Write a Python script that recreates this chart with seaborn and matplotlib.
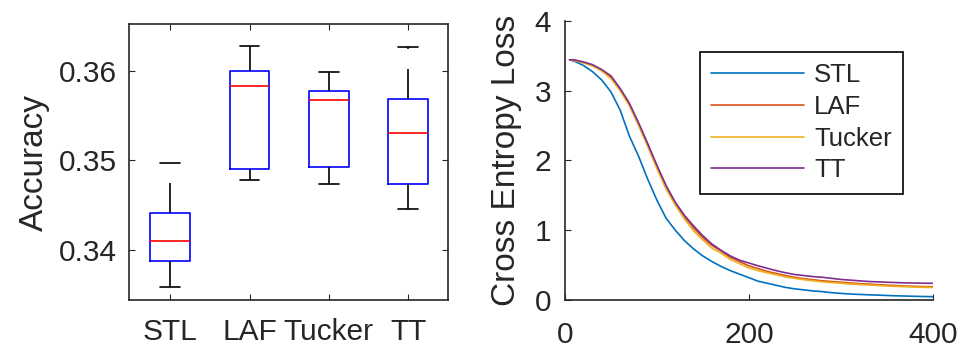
import pandas as pd
import matplotlib
matplotlib.use("Agg")
import matplotlib.pyplot as plt
import seaborn as sns

# Data

methods = ["STL", "LAF", "Tucker", "TT"]

# five numbers per method: lower whisker, q1, median, q3, upper whisker
acc_stl = [0.3358, 0.3388, 0.3410, 0.3441, 0.3497]
acc_laf = [0.3478, 0.3490, 0.3583, 0.3600, 0.3627]
acc_tucker = [0.3474, 0.3493, 0.3567, 0.3577, 0.3598]
acc_tt = [0.3446, 0.3473, 0.3530, 0.3568, 0.3626]

epochs = [5, 10, 20, 30, 40, 50, 60, 70, 80, 90, 100, 110, 120, 130, 140, 150,
          160, 170, 180, 190, 200, 210, 220, 230, 240, 250, 260, 270, 280, 290,
          300, 310, 320, 330, 340, 350, 360, 370, 380, 390, 400]

loss_stl = [3.44, 3.42, 3.36, 3.27, 3.15, 2.98, 2.72, 2.35, 2.06, 1.73, 1.43,
            1.17, 1.00, 0.85, 0.73, 0.63, 0.55, 0.48, 0.42, 0.37, 0.32, 0.27,
            0.24, 0.21, 0.18, 0.16, 0.145, 0.13, 0.12, 0.105, 0.095, 0.086,
            0.08, 0.075, 0.07, 0.065, 0.06, 0.057, 0.053, 0.05, 0.048]
loss_laf = [3.44, 3.43, 3.40, 3.36, 3.29, 3.19, 3.01, 2.80, 2.52, 2.22, 1.91,
            1.61, 1.38, 1.19, 1.03, 0.89, 0.78, 0.70, 0.61, 0.55, 0.49, 0.45,
            0.41, 0.38, 0.35, 0.325, 0.305, 0.29, 0.275, 0.265, 0.255, 0.245,
            0.235, 0.228, 0.22, 0.213, 0.207, 0.20, 0.196, 0.192, 0.19]
loss_tucker = [3.44, 3.43, 3.40, 3.35, 3.28, 3.17, 3.00, 2.78, 2.50, 2.20, 1.88,
               1.59, 1.36, 1.16, 0.99, 0.86, 0.74, 0.67, 0.58, 0.52, 0.46, 0.42,
               0.39, 0.36, 0.33, 0.31, 0.29, 0.275, 0.26, 0.25, 0.24, 0.23,
               0.222, 0.215, 0.208, 0.20, 0.195, 0.19, 0.185, 0.182, 0.18]
loss_tt = [3.44, 3.44, 3.41, 3.37, 3.30, 3.21, 3.03, 2.82, 2.54, 2.24, 1.93,
           1.64, 1.40, 1.21, 1.06, 0.92, 0.80, 0.71, 0.63, 0.57, 0.53, 0.49,
           0.455, 0.42, 0.39, 0.365, 0.35, 0.335, 0.325, 0.31, 0.295, 0.285,
           0.275, 0.265, 0.26, 0.255, 0.25, 0.245, 0.243, 0.24, 0.24]

line_colors = {"STL": "#0072BD", "LAF": "#D95319",
               "Tucker": "#EDB120", "TT": "#7E2F8E"}

# Build long-form tables
acc_df = pd.DataFrame({
    "method": [m for m, v in zip(methods, [acc_stl, acc_laf, acc_tucker, acc_tt])
               for _ in v],
    "accuracy": acc_stl + acc_laf + acc_tucker + acc_tt,
})

loss_df = pd.concat([
    pd.DataFrame({"epoch": epochs, "loss": vals, "method": m})
    for m, vals in zip(methods, [loss_stl, loss_laf, loss_tucker, loss_tt])
])

# Style
sns.set_style("ticks")
plt.rcParams["font.family"] = ["Liberation Sans", "DejaVu Sans"]
text_color = "#262626"

fig = plt.figure(figsize=(9.63, 3.52), dpi=100)
ax1 = fig.add_axes([0.134, 0.1477, 0.3313, 0.784])
ax2 = fig.add_axes([0.5867, 0.1477, 0.3818, 0.7935])

# Left: accuracy box plot
sns.boxplot(data=acc_df, x="method", y="accuracy", order=methods,
            width=0.5, fill=False, linewidth=1.2, whis=1.5, showfliers=False,
            boxprops=dict(color="blue"),
            medianprops=dict(color="red"),
            whiskerprops=dict(color="black", linestyle=(0, (18, 12))),
            capprops=dict(color="black"),
            ax=ax1)

ax1.set_xlim(-0.52, 3.505)
ax1.set_ylim(0.3344, 0.3652)
ax1.set_yticks([0.34, 0.35, 0.36])
ax1.set_yticklabels(["0.34", "0.35", "0.36"])
ax1.set_xlabel("")
ax1.set_ylabel("Accuracy", fontsize=24, color=text_color, labelpad=6)
ax1.tick_params(direction="in", top=True, right=True, length=4,
                labelsize=21.5, colors=text_color)
ax1.tick_params(axis="x", pad=13)
ax1.tick_params(axis="y", pad=9)
for side in ["left", "right", "top", "bottom"]:
    ax1.spines[side].set_visible(True)
    ax1.spines[side].set_color(text_color)
    ax1.spines[side].set_linewidth(1.2)

# Right: loss curves
sns.lineplot(data=loss_df, x="epoch", y="loss", hue="method",
             hue_order=methods, palette=line_colors, estimator=None,
             linewidth=1.2, ax=ax2)

ax2.set_xlim(0, 400)
ax2.set_ylim(0, 4)
ax2.set_xticks([0, 200, 400])
ax2.set_yticks([0, 1, 2, 3, 4])
ax2.set_xlabel("")
ax2.set_ylabel("Cross Entropy Loss", fontsize=24, color=text_color, labelpad=9)
ax2.tick_params(direction="in", length=4, labelsize=21.5, colors=text_color)
ax2.tick_params(axis="x", pad=15)
ax2.tick_params(axis="y", pad=10)
ax2.spines["top"].set_visible(False)
ax2.spines["right"].set_visible(False)
for s in ["left", "bottom"]:
    ax2.spines[s].set_color(text_color)
    ax2.spines[s].set_linewidth(1.2)

old = ax2.get_legend()
handles = old.legend_handles
labels = [t.get_text() for t in old.get_texts()]
old.remove()
leg = ax2.legend(handles, labels, loc="upper left",
                 bbox_to_anchor=(0.367, 0.889), fontsize=18.5,
                 frameon=True, fancybox=False, edgecolor="black",
                 framealpha=1, handlelength=3.6, handletextpad=0.4,
                 labelspacing=0.3, borderpad=0.45, borderaxespad=0)
leg.get_frame().set_linewidth(1.2)
for h in leg.legend_handles:
    h.set_linewidth(1.2)
for t in leg.get_texts():
    t.set_color(text_color)

fig.savefig("out.png", dpi=100)
